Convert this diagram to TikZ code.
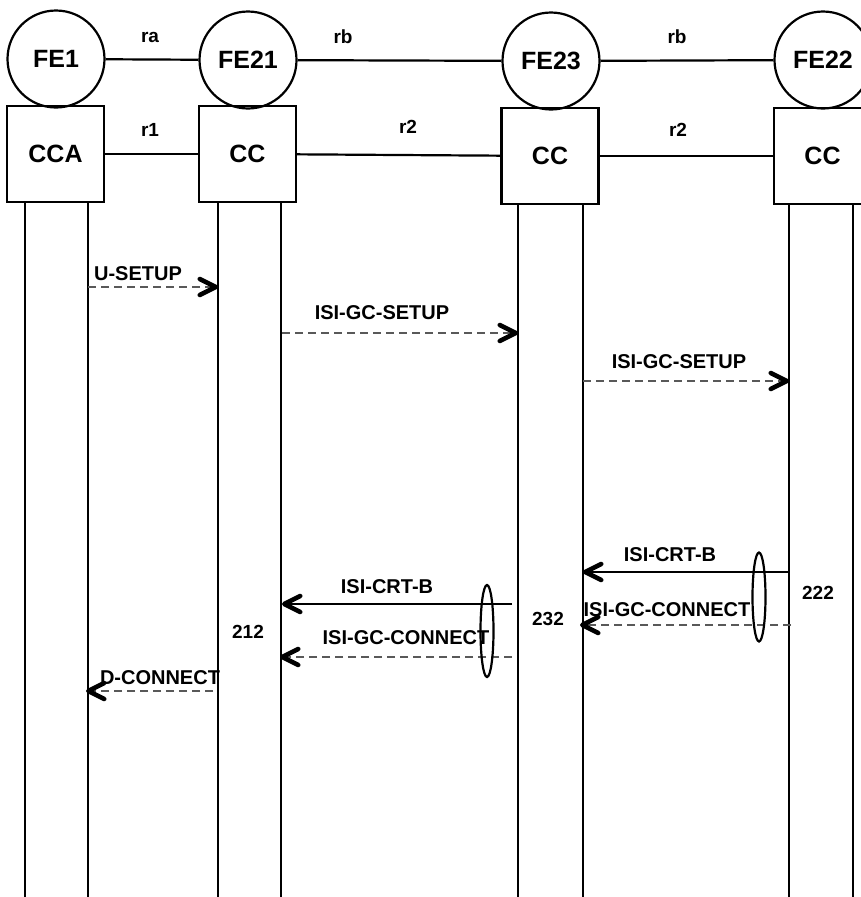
\documentclass[tikz,border=0pt]{standalone}
\usepackage{fontspec}
\setmainfont{Liberation Sans}
\usetikzlibrary{arrows.meta}
\begin{document}
\begin{tikzpicture}[x=1pt,y=-1pt,
  fe/.style={circle,draw,line width=2.2pt,minimum size=97pt,inner sep=0pt,font=\fontsize{25}{25}\selectfont\bfseries},
  ccbox/.style={rectangle,draw,line width=2.2pt,minimum width=97pt,minimum height=96pt,inner sep=0pt,font=\fontsize{25}{25}\selectfont\bfseries},
  life/.style={line width=2.8pt},
  link/.style={line width=2.2pt},
  lbl/.style={font=\fontsize{19}{19}\selectfont\bfseries,inner sep=0pt},
  msglbl/.style={font=\fontsize{20}{20}\selectfont\bfseries,inner sep=0pt},
  tip/.style={-{Straight Barb[length=16pt,width=16pt,line width=4.5pt,round,color=black]}},
  req/.style={tip,draw=black!65,line width=1.2pt,dash pattern=on 8pt off 5pt},
  rsp/.style={tip,draw=black,line width=2.2pt},
  grp/.style={line width=2.2pt}
]
\useasboundingbox (0,0) rectangle (861,897);
\clip (0,0) rectangle (861,897);
% functional entities
\node[fe] (fe1) at (56,59) {FE1};
\node[fe] (fe21) at (248,60) {FE21};
\node[fe] (fe23) at (551,61) {FE23};
\node[fe] (fe22) at (823,60) {FE22};
\node[ccbox] (cca) at (55.5,154) {CCA};
\node[ccbox] (cc21) at (247.5,154) {CC};
\node[ccbox] (cc23) at (550,156) {CC};
\node[ccbox] (cc22) at (822.5,156) {CC};
% relationships
\draw[link] (fe1) -- (fe21);
\draw[link] (fe21) -- (fe23);
\draw[link] (fe23) -- (fe22);
\draw[link] (cca) -- (cc21);
\draw[link] (cc21) -- (cc23);
\draw[link] (cc23) -- (cc22);
\node[lbl] (ra) at (150,37) {ra};
\node[lbl] (rb1) at (343,37) {rb};
\node[lbl] (rb2) at (677,37) {rb};
\node[lbl] (r1) at (150,130) {r1};
\node[lbl] (r2a) at (408,127) {r2};
\node[lbl] (r2b) at (678,130) {r2};
% lifelines
\foreach \n/\x/\y in {a/25/202,b/88/202,c/218/202,d/281/202,e/518/204,f/583/204,g/789/204,h/853/204}{
  \coordinate (t\n) at (\x,\y);
  \coordinate (b\n) at (\x,897);
  \draw[life] (t\n) -- (b\n);
}
% message end points
\coordinate (m1s) at (88,287);  \coordinate (m1e) at (218,287);
\coordinate (m2s) at (282,333); \coordinate (m2e) at (518,333);
\coordinate (m3s) at (583,381); \coordinate (m3e) at (789,381);
\coordinate (m4s) at (789,572); \coordinate (m4e) at (583,572);
\coordinate (m5s) at (791,625); \coordinate (m5e) at (580,625);
\coordinate (m6s) at (512,604); \coordinate (m6e) at (282,604);
\coordinate (m7s) at (512,657); \coordinate (m7e) at (280,657);
\coordinate (m8s) at (213,691); \coordinate (m8e) at (86,691);
\draw[req] (m1s) -- (m1e);
\draw[req] (m2s) -- (m2e);
\draw[req] (m3s) -- (m3e);
\draw[rsp] (m4s) -- (m4e);
\draw[req] (m5s) -- (m5e);
\draw[rsp] (m6s) -- (m6e);
\draw[req] (m7s) -- (m7e);
\draw[req] (m8s) -- (m8e);
\node[msglbl] (l1) at (138,274) {U-SETUP};
\node[msglbl] (l2) at (382,313) {ISI-GC-SETUP};
\node[msglbl] (l3) at (679,362) {ISI-GC-SETUP};
\node[msglbl] (l4) at (670,555) {ISI-CRT-B};
\node[msglbl] (l5) at (667,610) {ISI-GC-CONNECT};
\node[msglbl] (l6) at (387,587) {ISI-CRT-B};
\node[msglbl] (l7) at (406,638) {ISI-GC-CONNECT};
\node[msglbl] (l8) at (160,678) {D-CONNECT};
% groupings
\draw[grp] (759,597) ellipse [x radius=6.5, y radius=44.5];
\draw[grp] (487,631) ellipse [x radius=6.5, y radius=46];
\node[lbl] (n222) at (818,593) {222};
\node[lbl] (n232) at (548,619) {232};
\node[lbl] (n212) at (248,632) {212};
\end{tikzpicture}
\end{document}
